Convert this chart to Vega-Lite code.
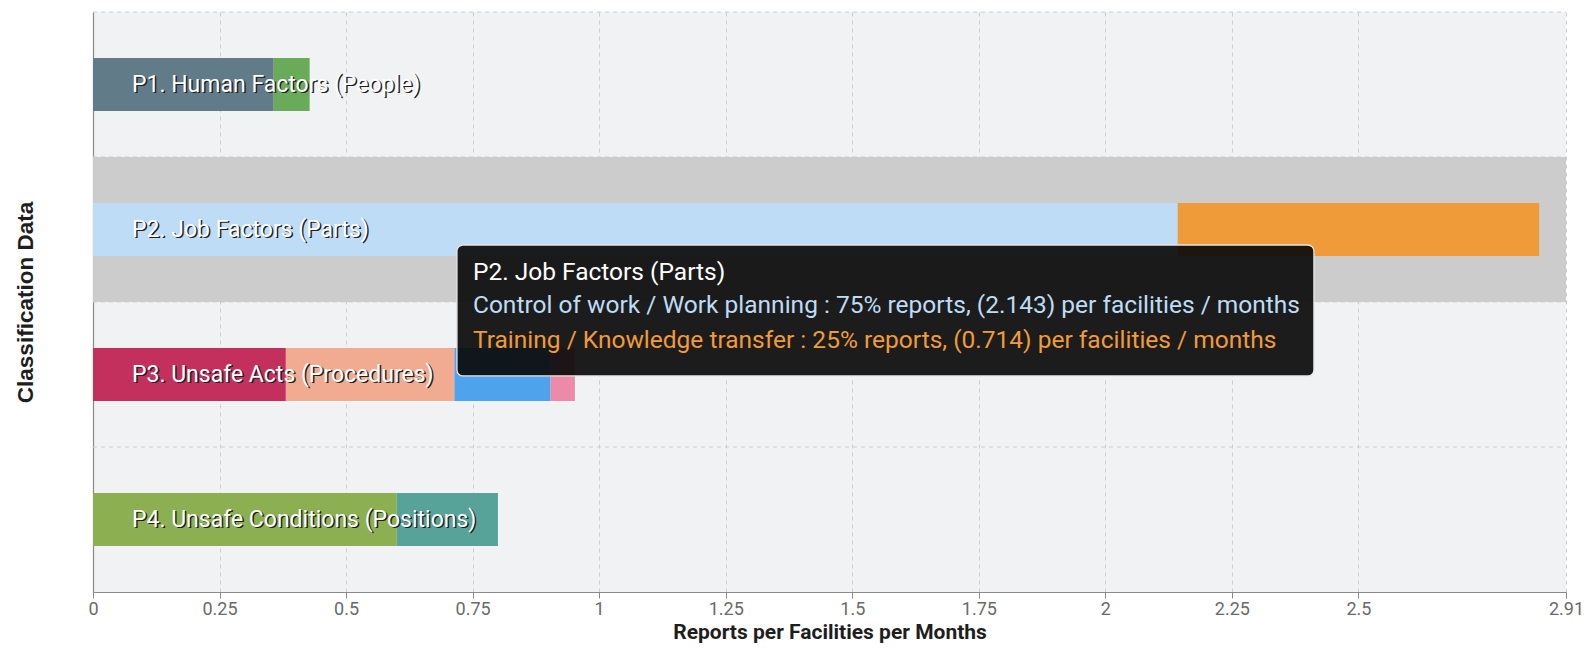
{
  "$schema": "https://vega.github.io/schema/vega-lite/v6.json",
  "width": 1473,
  "height": 580,
  "autosize": {"type": "none"},
  "padding": {"left": 93, "top": 12, "right": 22, "bottom": 57},
  "background": "#ffffff",
  "config": {
    "view": {"fill": "#f1f2f4", "stroke": null},
    "font": "Roboto",
    "axis": {
      "gridColor": "#cdcdcd",
      "gridDash": [4, 4],
      "gridWidth": 1,
      "domainColor": "#8a8a8a",
      "domainWidth": 1.2,
      "tickColor": "#8a8a8a",
      "titleFont": "Roboto",
      "titleFontWeight": "bold",
      "titleColor": "#1e1e1e",
      "labelFont": "Roboto",
      "labelColor": "#6a6a6a"
    }
  },
  "datasets": {
    "bars": [
      {"cat": "P1. Human Factors (People)", "sub": "Human error", "value": 0.357, "ord": 1},
      {"cat": "P1. Human Factors (People)", "sub": "Fatigue / Stress", "value": 0.071, "ord": 2},
      {"cat": "P2. Job Factors (Parts)", "sub": "Control of work / Work planning", "value": 2.143, "ord": 1},
      {"cat": "P2. Job Factors (Parts)", "sub": "Training / Knowledge transfer", "value": 0.714, "ord": 2},
      {"cat": "P3. Unsafe Acts (Procedures)", "sub": "Procedure not followed", "value": 0.381, "ord": 1},
      {"cat": "P3. Unsafe Acts (Procedures)", "sub": "Inadequate procedure", "value": 0.333, "ord": 2},
      {"cat": "P3. Unsafe Acts (Procedures)", "sub": "Shortcut taken", "value": 0.19, "ord": 3},
      {"cat": "P3. Unsafe Acts (Procedures)", "sub": "Violation", "value": 0.048, "ord": 4},
      {"cat": "P4. Unsafe Conditions (Positions)", "sub": "Workplace conditions", "value": 0.6, "ord": 1},
      {"cat": "P4. Unsafe Conditions (Positions)", "sub": "Equipment condition", "value": 0.2, "ord": 2}
    ],
    "cats": [
      {"cat": "P1. Human Factors (People)"},
      {"cat": "P2. Job Factors (Parts)"},
      {"cat": "P3. Unsafe Acts (Procedures)"},
      {"cat": "P4. Unsafe Conditions (Positions)"}
    ],
    "hover": [
      {"cat": "P2. Job Factors (Parts)"}
    ],
    "tip": [
      {"line": "title", "text": "P2. Job Factors (Parts)"},
      {"line": "a", "text": "Control of work / Work planning : 75% reports, (2.143) per facilities / months"},
      {"line": "b", "text": "Training / Knowledge transfer : 25% reports, (0.714) per facilities / months"}
    ]
  },
  "layer": [
    {
      "layer": [
        {
          "data": {"name": "cats"},
          "mark": {"type": "rule", "color": "#cdcdcd", "strokeDash": [4, 4], "strokeWidth": 1},
          "encoding": {
            "y": {"field": "cat", "type": "nominal", "bandPosition": 0,
              "scale": {"domain": ["P1. Human Factors (People)", "P2. Job Factors (Parts)", "P3. Unsafe Acts (Procedures)", "P4. Unsafe Conditions (Positions)"], "paddingInner": 0, "paddingOuter": 0},
              "axis": {"title": "Classification Data", "titleFont": "Liberation Sans", "titleFontSize": 22.5, "labels": false, "ticks": false, "grid": false, "titlePadding": 56, "domain": true}},
            "x": {"datum": 0, "type": "quantitative"},
            "x2": {"datum": 2.91}
          }
        },
        {
          "data": {"name": "hover"},
          "mark": {"type": "rect", "fill": "#cccccc"},
          "encoding": {
            "y": {"field": "cat", "type": "nominal"},
            "x": {"datum": 0, "type": "quantitative"},
            "x2": {"datum": 2.91}
          }
        },
        {
          "data": {"name": "bars"},
          "mark": {"type": "bar", "height": {"band": 0.366}},
          "encoding": {
            "y": {"field": "cat", "type": "nominal"},
            "x": {"field": "value", "type": "quantitative", "stack": "zero",
              "scale": {"domain": [0, 2.91], "nice": false, "zero": true},
              "axis": {"title": "Reports per Facilities per Months", "titleFontSize": 21, "labelFontSize": 18, "values": [0, 0.25, 0.5, 0.75, 1, 1.25, 1.5, 1.75, 2, 2.25, 2.5, 2.91], "labelExpr": "'' + datum.value", "labelFlush": false, "labelOverlap": false, "tickSize": 6, "labelPadding": 2, "titlePadding": 3, "grid": true}},
            "color": {"field": "sub", "type": "nominal", "legend": null,
              "scale": {
                "domain": ["Human error", "Fatigue / Stress", "Control of work / Work planning", "Training / Knowledge transfer", "Procedure not followed", "Inadequate procedure", "Shortcut taken", "Violation", "Workplace conditions", "Equipment condition"],
                "range": ["#617b89", "#6aab59", "#bedcf5", "#ef9b3a", "#c4305e", "#f1ab91", "#4fa3ec", "#ec8aa8", "#8cb051", "#57a39a"]
              }},
            "order": {"field": "ord", "type": "quantitative"}
          }
        },
        {
          "data": {"name": "cats"},
          "mark": {"type": "text", "align": "left", "baseline": "middle", "dx": 40.5, "dy": 1.5, "fontSize": 23, "font": "Roboto", "color": "#202020"},
          "encoding": {
            "y": {"field": "cat", "type": "nominal"},
            "x": {"datum": 0, "type": "quantitative"},
            "text": {"field": "cat"}
          }
        },
        {
          "data": {"name": "cats"},
          "mark": {"type": "text", "align": "left", "baseline": "middle", "dx": 39, "fontSize": 23, "font": "Roboto", "color": "#ffffff"},
          "encoding": {
            "y": {"field": "cat", "type": "nominal"},
            "x": {"datum": 0, "type": "quantitative"},
            "text": {"field": "cat"}
          }
        }
      ]
    },
    {
      "layer": [
        {
          "data": {"name": "hover"},
          "mark": {"type": "rect", "fill": "#0c0c0c", "fillOpacity": 0.93, "stroke": "#e6e6e6", "strokeWidth": 1.3, "cornerRadius": 6},
          "encoding": {
            "x": {"datum": 0.719, "type": "quantitative"},
            "x2": {"datum": 2.412},
            "y": {"datum": 1.607, "type": "quantitative", "scale": {"domain": [0, 4], "reverse": true, "nice": false, "zero": false}, "axis": null},
            "y2": {"datum": 2.51}
          }
        },
        {
          "data": {"name": "tip"},
          "transform": [{"filter": "datum.line === 'title'"}],
          "mark": {"type": "text", "align": "left", "baseline": "middle", "dx": 16, "fontSize": 24.5, "font": "Roboto", "color": "#ffffff"},
          "encoding": {
            "x": {"datum": 0.719, "type": "quantitative"},
            "y": {"datum": 1.8, "type": "quantitative", "axis": null},
            "text": {"field": "text"}
          }
        },
        {
          "data": {"name": "tip"},
          "transform": [{"filter": "datum.line === 'a'"}],
          "mark": {"type": "text", "align": "left", "baseline": "middle", "dx": 16, "fontSize": 24.5, "font": "Roboto", "color": "#bedcf5"},
          "encoding": {
            "x": {"datum": 0.719, "type": "quantitative"},
            "y": {"datum": 2.028, "type": "quantitative", "axis": null},
            "text": {"field": "text"}
          }
        },
        {
          "data": {"name": "tip"},
          "transform": [{"filter": "datum.line === 'b'"}],
          "mark": {"type": "text", "align": "left", "baseline": "middle", "dx": 16, "fontSize": 24.5, "font": "Roboto", "color": "#f09b38"},
          "encoding": {
            "x": {"datum": 0.719, "type": "quantitative"},
            "y": {"datum": 2.27, "type": "quantitative", "axis": null},
            "text": {"field": "text"}
          }
        }
      ]
    }
  ],
  "resolve": {"scale": {"y": "independent"}}
}
